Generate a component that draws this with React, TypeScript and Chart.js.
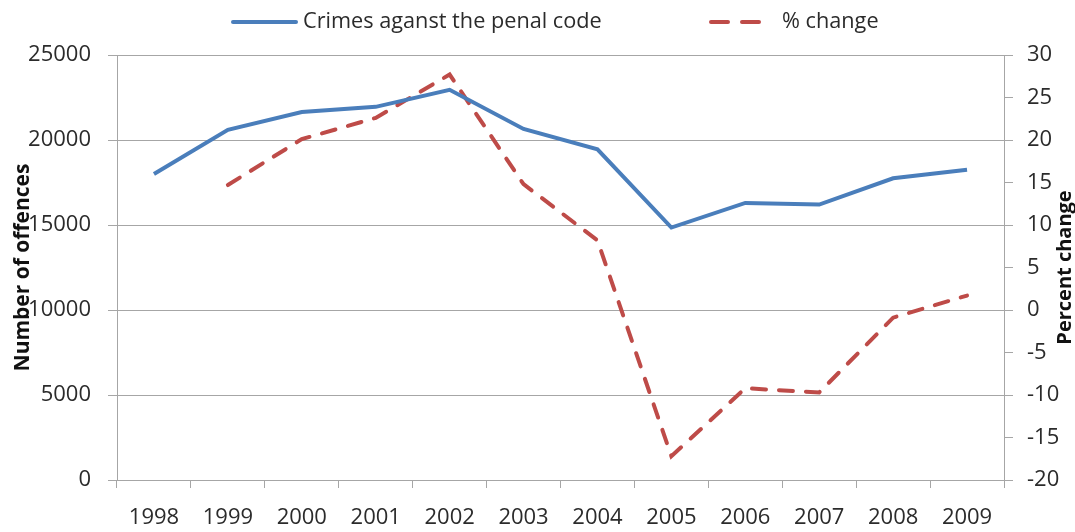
import React, { useEffect, useRef } from "react";
import { Chart, registerables } from "chart.js";

Chart.register(...registerables);

const years = ["1998", "1999", "2000", "2001", "2002", "2003", "2004", "2005", "2006", "2007", "2008", "2009"];
const crimes = [18000, 20600, 21650, 21950, 22950, 20650, 19450, 14850, 16300, 16200, 17750, 18250];
const pctChange = [null, 14.7, 20.1, 22.6, 27.7, 14.8, 8.2, -17.2, -9.2, -9.7, -0.9, 1.7];
const leftTicks = { min: 0, max: 25000, step: 5000 };
const rightTicks = { min: -20, max: 30, step: 5 };
const seriesNames = ["Crimes aganst the penal code", "% change"];
const axisTitles = ["Number of offences", "Percent change"];

const BLUE = "#4a7ebb";
const RED = "#be4b48";
const GRID = "#a6a6a6";
const TEXT = "#2b2b2b";
const FONT = "'Open Sans', 'Liberation Sans', sans-serif";

const overlay = {
  id: "overlay",
  afterDraw(chart: any) {
    const ctx = chart.ctx;
    const ca = chart.chartArea;
    ctx.save();
    // legend
    const ly = 22;
    ctx.lineWidth = 4;
    ctx.lineCap = "round";
    ctx.strokeStyle = BLUE;
    ctx.beginPath();
    ctx.moveTo(233, ly);
    ctx.lineTo(296, ly);
    ctx.stroke();
    ctx.strokeStyle = RED;
    ctx.setLineDash([17, 14]);
    ctx.beginPath();
    ctx.moveTo(711, ly);
    ctx.lineTo(762, ly);
    ctx.stroke();
    ctx.setLineDash([]);
    ctx.fillStyle = TEXT;
    ctx.font = `21.7px ${FONT}`;
    ctx.textBaseline = "middle";
    ctx.textAlign = "left";
    ctx.fillText(seriesNames[0], 303, ly);
    ctx.fillText(seriesNames[1], 782, ly);
    // axis titles
    const cy = (ca.top + ca.bottom) / 2;
    ctx.font = `bold 21px ${FONT}`;
    ctx.textAlign = "center";
    ctx.fillStyle = "#111";
    ctx.translate(23, cy);
    ctx.rotate(-Math.PI / 2);
    ctx.fillText(axisTitles[0], 0, 0);
    ctx.restore();
    ctx.save();
    ctx.font = `bold 20px ${FONT}`;
    ctx.textAlign = "center";
    ctx.textBaseline = "middle";
    ctx.fillStyle = "#111";
    ctx.translate(1065, cy);
    ctx.rotate(-Math.PI / 2);
    ctx.fillText(axisTitles[1], 0, 0);
    ctx.restore();
  },
};

const plain = (v: any) => String(v);

export default function App() {
  const ref = useRef<HTMLCanvasElement>(null);
  useEffect(() => {
    const chart = new Chart(ref.current!, {
      type: "line",
      data: {
        labels: years,
        datasets: [
          {
            label: seriesNames[0],
            data: crimes,
            borderColor: BLUE,
            backgroundColor: BLUE,
            borderWidth: 4,
            pointRadius: 0,
            tension: 0,
            yAxisID: "y",
          },
          {
            label: seriesNames[1],
            data: pctChange as any,
            borderColor: RED,
            backgroundColor: RED,
            borderWidth: 4,
            borderDash: [14, 13],
            borderCapStyle: "round",
            pointRadius: 0,
            tension: 0,
            yAxisID: "y1",
          },
        ],
      },
      options: {
        responsive: false,
        animation: false,
        layout: { padding: { top: 55, left: 0, right: 0, bottom: 0 } },
        plugins: { legend: { display: false }, tooltip: { enabled: false } },
        scales: {
          x: {
            offset: true,
            grid: { offset: true, drawOnChartArea: false, drawTicks: true, tickLength: 8, color: GRID },
            border: { color: GRID, width: 1 },
            ticks: { color: TEXT, font: { family: FONT, size: 22 }, padding: 17, maxRotation: 0 },
            afterFit: (s: any) => { s.height = 52; },
          },
          y: {
            position: "left",
            min: leftTicks.min,
            max: leftTicks.max,
            ticks: { stepSize: leftTicks.step, color: TEXT, font: { family: FONT, size: 22 }, padding: 17, callback: plain },
            grid: { color: GRID, tickLength: 9 },
            border: { color: GRID },
            afterFit: (s: any) => { s.width = 117; },
          },
          y1: {
            position: "right",
            min: rightTicks.min,
            max: rightTicks.max,
            ticks: { stepSize: rightTicks.step, color: TEXT, font: { family: FONT, size: 22 }, padding: 14, callback: plain },
            grid: { drawOnChartArea: false, color: GRID, tickLength: 9 },
            border: { color: GRID },
            afterFit: (s: any) => { s.width = 71; },
          },
        },
      },
      plugins: [overlay],
    });
    return () => chart.destroy();
  }, []);
  return (
    <canvas
      ref={ref}
      width={1075}
      height={532}
      style={{ position: "fixed", left: 0, top: 0, width: 1075, height: 532, background: "#fff" }}
    />
  );
}
